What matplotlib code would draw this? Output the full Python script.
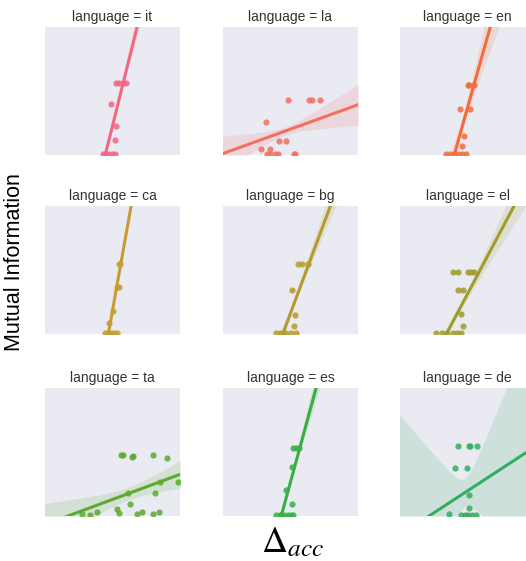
import numpy as np
import matplotlib.pyplot as plt

plt.rcParams['font.family'] = ['Liberation Sans', 'DejaVu Sans']
plt.rcParams['mathtext.fontset'] = 'stix'

languages = ["it", "la", "en", "ca", "bg", "el", "ta", "es", "de"]
colors = ["#f1687f", "#f2705e", "#f26c3c", "#c59b34", "#b39c2d",
          "#a09c2b", "#5aab2f", "#37b043", "#34ad60"]

# delta_acc (x), mutual information (y) and number of overlapping runs (n),
# read off the picture with both axes scaled to 0..1
dacc_it = [0.526, 0.55, 0.575, 0.60, 0.486, 0.526, 0.521, 0.432, 0.447, 0.47, 0.495, 0.519]
mi_it = [0.564, 0.564, 0.564, 0.564, 0.395, 0.226, 0.117, 0.01, 0.01, 0.01, 0.01, 0.01]
n_it = [1, 1, 14, 1, 1, 1, 1, 1, 14, 1, 1, 1]

dacc_la = [0.479, 0.637, 0.657, 0.721, 0.319, 0.415, 0.464, 0.281, 0.348,
           0.323, 0.348, 0.385, 0.41, 0.526, 0.533]
mi_la = [0.429, 0.429, 0.429, 0.429, 0.257, 0.106, 0.106, 0.047, 0.047,
         0.01, 0.01, 0.01, 0.01, 0.01, 0.01]
n_la = [24, 4, 4, 4, 20, 4, 4, 4, 4, 4, 4, 4, 4, 4, 28]

dacc_en = [0.50, 0.514, 0.545, 0.447, 0.52, 0.477, 0.459, 0.34, 0.37, 0.403, 0.43, 0.46, 0.49]
mi_en = [0.545, 0.545, 0.545, 0.36, 0.36, 0.15, 0.07, 0.01, 0.01, 0.01, 0.01, 0.01, 0.01]
n_en = [4, 4, 5, 1, 1, 1, 1, 1, 1, 5, 1, 5, 1]

dacc_ca = [0.545, 0.557, 0.53, 0.545, 0.506, 0.474, 0.444, 0.47, 0.49, 0.51, 0.531]
mi_ca = [0.543, 0.543, 0.366, 0.366, 0.183, 0.086, 0.01, 0.01, 0.01, 0.01, 0.01]
n_ca = [1, 20, 1, 1, 1, 1, 1, 20, 1, 1, 1]

dacc_bg = [0.556, 0.585, 0.632, 0.511, 0.531, 0.523, 0.395, 0.425, 0.447, 0.47, 0.50, 0.54]
mi_bg = [0.543, 0.543, 0.543, 0.347, 0.151, 0.06, 0.01, 0.01, 0.01, 0.01, 0.01, 0.01]
n_bg = [1, 1, 10, 1, 1, 1, 1, 1, 10, 1, 1, 1]

dacc_el = [0.39, 0.427, 0.50, 0.526, 0.55, 0.427, 0.464, 0.452, 0.464,
           0.27, 0.31, 0.35, 0.39, 0.42, 0.45]
mi_el = [0.486, 0.486, 0.486, 0.486, 0.486, 0.347, 0.347, 0.157, 0.06,
         0.01, 0.01, 0.01, 0.01, 0.01, 0.01]
n_el = [3, 3, 6, 6, 18, 6, 6, 6, 6, 6, 6, 18, 6, 18, 18]

dacc_ta = [0.56, 0.58, 0.642, 0.649, 0.802, 0.906, 0.983, 0.815, 0.63, 0.531,
           0.548, 0.272, 0.333, 0.388, 0.679, 0.716, 0.802, 0.847, 0.617, 0.852]
mi_ta = [0.474, 0.474, 0.461, 0.472, 0.474, 0.453, 0.267, 0.176, 0.091, 0.054,
         0.026, 0.016, 0.008, 0.034, 0.016, 0.034, 0.016, 0.034, 0.176, 0.267]
n_ta = [2, 2, 2, 2, 2, 2, 2, 2, 2, 2, 4, 4, 4, 2, 2, 2, 2, 2, 2, 2]

dacc_es = [0.52, 0.54, 0.562, 0.51, 0.47, 0.51, 0.39, 0.42, 0.433, 0.45, 0.48, 0.50, 0.52]
mi_es = [0.53, 0.53, 0.53, 0.38, 0.20, 0.09, 0.01, 0.01, 0.01, 0.01, 0.01, 0.01, 0.01]
n_es = [1, 1, 14, 1, 1, 1, 1, 1, 14, 1, 1, 1, 1]

dacc_de = [0.427, 0.509, 0.519, 0.568, 0.407, 0.496, 0.514, 0.514, 0.365,
           0.45, 0.48, 0.50, 0.53, 0.56]
mi_de = [0.55, 0.55, 0.55, 0.55, 0.376, 0.376, 0.163, 0.06, 0.016,
         0.01, 0.01, 0.01, 0.01, 0.01]
n_de = [1, 1, 1, 1, 1, 1, 1, 1, 2, 1, 4, 1, 1, 1]

xs = [dacc_it, dacc_la, dacc_en, dacc_ca, dacc_bg, dacc_el, dacc_ta, dacc_es, dacc_de]
ys = [mi_it, mi_la, mi_en, mi_ca, mi_bg, mi_el, mi_ta, mi_es, mi_de]
ns = [n_it, n_la, n_en, n_ca, n_bg, n_el, n_ta, n_es, n_de]

fig = plt.figure(figsize=(5.26, 5.61), dpi=100)
W, H = 526.0, 561.0
lefts = [45, 223, 400]
bottoms = [406, 227, 45]

for i, lang in enumerate(languages):
    r, c = divmod(i, 3)
    ax = fig.add_axes([lefts[c] / W, bottoms[r] / H, 135 / W, 128 / H])
    ax.set_facecolor("#eaeaf2")
    for s in ax.spines.values():
        s.set_visible(False)
    ax.set_xticks([])
    ax.set_yticks([])

    x = np.array(xs[i])
    y = np.array(ys[i])
    n = np.array(ns[i], dtype=float)
    col = colors[i]

    # least squares fit (each run counted) with a 95% band
    N = n.sum()
    xm = np.sum(n * x) / N
    ym = np.sum(n * y) / N
    sxx = np.sum(n * (x - xm) ** 2)
    slope = np.sum(n * (x - xm) * (y - ym)) / sxx
    icpt = ym - slope * xm
    s_err = np.sqrt(np.sum(n * (y - icpt - slope * x) ** 2) / (N - 2))

    grid = np.linspace(-0.2, 1.2, 300)
    fit = icpt + slope * grid
    half = 1.96 * s_err * np.sqrt(1.0 / N + (grid - xm) ** 2 / sxx)

    ax.fill_between(grid, fit - half, fit + half, color=col, alpha=0.15, lw=0)
    ax.scatter(x, y, s=20, color=col, alpha=0.85, lw=0)
    ax.plot(grid, fit, color=col, lw=2.2)

    ax.set_xlim(0, 1)
    ax.set_ylim(0, 1)
    ax.set_title("language = " + lang, fontsize=10, color="#333333", pad=4)

fig.text(15 / W, 1 - 262 / H, "Mutual Information", rotation=90, ha="center",
         va="center", fontsize=15.5)
fig.text(293 / W, 18 / H, r"$\Delta_{acc}$", ha="center", va="center", fontsize=26)

fig.savefig("out.png", dpi=100)
